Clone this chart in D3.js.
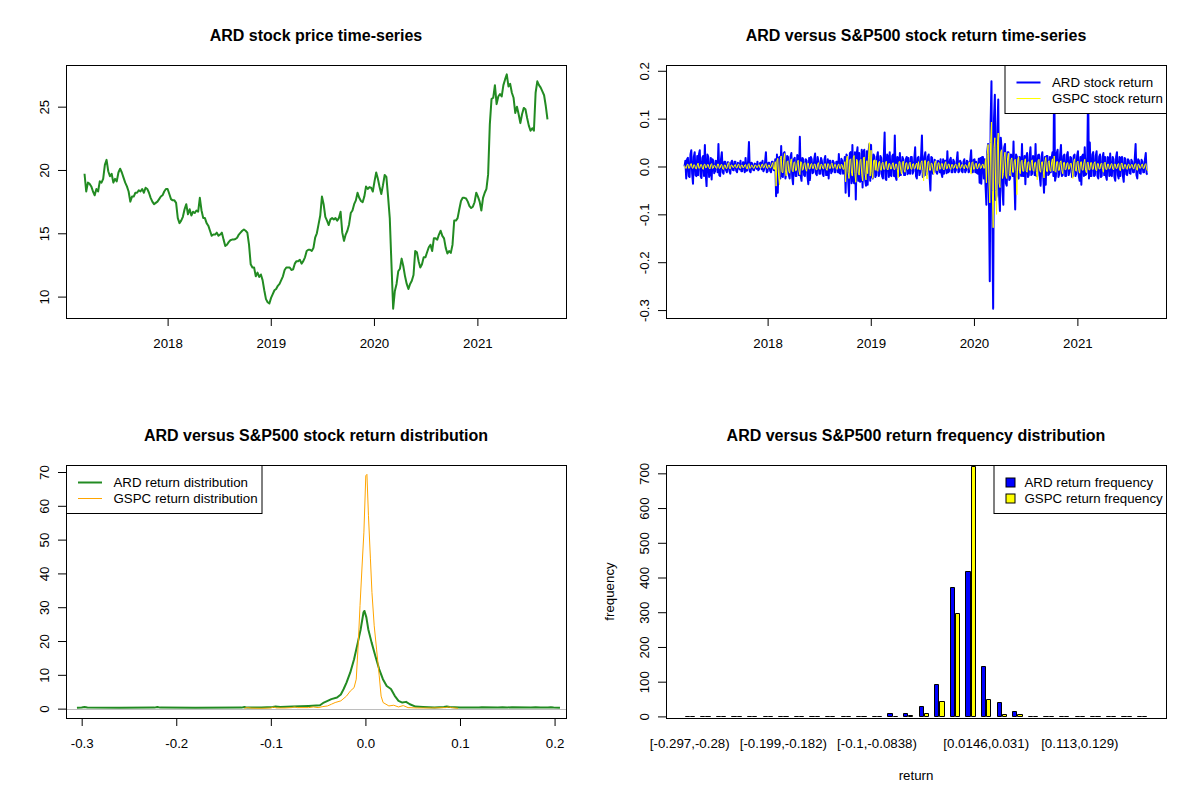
<!DOCTYPE html>
<html>
<head>
<meta charset="utf-8">
<script src="https://cdn.jsdelivr.net/npm/d3@7"></script>
<style>
  body { margin: 0; background: #fff; }
</style>
</head>
<body>
<svg id="chart" width="1200" height="800"></svg>
<script>
// ---- data ----
// all series start 2017-03-13; prices every 6 days, returns every 3 days
const seriesStart = new Date(2017, 2, 13);
const priceStepDays = 6;
const returnStepDays = 3;

const ardPrice = [
  19.7, 18.3, 19.0, 18.9, 18.7, 18.3, 18.0, 18.5, 18.3, 19.1,
  19.0, 19.3, 20.4, 20.8, 19.9, 19.5, 19.7, 19.0, 19.3, 19.1,
  19.8, 20.1, 19.8, 19.4, 19.0, 18.7, 18.3, 17.5, 17.9, 17.9,
  18.2, 18.2, 18.4, 18.3, 18.5, 18.2, 18.6, 18.5, 18.2, 17.8,
  17.5, 17.3, 17.4, 17.5, 17.7, 17.9, 18.0, 18.3, 18.5, 18.5,
  18.1, 17.7, 17.6, 17.6, 17.4, 16.2, 15.8, 16.0, 16.3, 16.9,
  17.3, 16.5, 16.9, 16.4, 16.7, 16.6, 16.8, 16.7, 17.8, 16.8,
  16.2, 16.2, 15.8, 15.6, 15.2, 14.8, 14.9, 14.9, 15.05, 14.8,
  14.9, 15.05, 14.5, 14.0, 14.1, 14.3, 14.45, 14.5, 14.5, 14.55,
  14.65, 14.9, 15.05, 15.2, 15.3, 15.2, 15.05, 14.1, 12.55, 12.3,
  12.3, 11.6, 11.9, 11.55, 11.75, 11.3, 10.5, 9.8, 9.55, 9.45,
  9.9, 10.2, 10.5, 10.6, 10.85, 11.0, 11.3, 11.6, 12.1, 12.3,
  12.3, 12.3, 12.1, 12.15, 12.6, 12.8, 12.8, 12.9, 12.6, 12.8,
  13.1, 13.6, 13.7, 13.7, 13.6, 13.85, 14.65, 15.0, 15.7, 16.4,
  17.9, 17.3, 16.3, 16.0, 15.65, 16.1, 16.2, 16.1, 16.2, 16.0,
  16.2, 16.7, 15.05, 14.4, 14.9, 15.2, 15.7, 16.6, 16.8, 17.3,
  17.6, 18.2, 17.8, 17.55, 17.45, 17.9, 18.7, 18.5, 18.65, 18.6,
  18.3, 19.1, 19.8, 19.3, 18.65, 18.1, 18.8, 19.6, 19.45, 17.9,
  16.2, 12.55, 9.05, 10.45, 11.0, 12.0, 12.2, 13.0, 12.4, 11.6,
  11.0, 10.6, 11.0, 11.25, 11.7, 13.6, 13.5, 12.8, 12.3, 12.55,
  13.1, 13.1, 13.5, 13.9, 14.1, 13.6, 14.6, 14.6, 14.5, 14.9,
  15.2, 14.8, 14.6, 13.85, 13.4, 13.6, 13.45, 14.1, 16.0, 16.0,
  16.2, 16.9, 17.55, 17.8, 17.8, 17.75, 17.5, 17.15, 17.0, 17.1,
  17.45, 18.2, 17.9, 17.5, 16.8, 17.8, 18.2, 18.5, 19.65, 23.6,
  25.6, 25.7, 26.7, 25.2, 25.8, 26.0, 25.8, 26.7, 27.15, 27.55,
  26.6, 26.8, 26.1, 25.7, 24.5, 25.0, 24.4, 23.7, 24.4, 24.9,
  24.8, 24.1, 23.5, 23.1, 23.3, 23.1, 26.1, 27.0, 26.7, 26.5,
  26.2, 25.9, 25.05, 24.0
];

const ardReturn = [
  0.000, 0.012, -0.025, 0.015, 0.018, -0.020, -0.022, 0.025, 0.034, -0.015, -0.036, 0.020, 0.030, -0.018, -0.020, 0.022, -0.018, 0.025, 0.034, -0.020,
  -0.024, 0.018, 0.022, -0.020, 0.045, -0.015, -0.041, 0.025, 0.020, -0.022, -0.015, 0.018, -0.027, 0.015, 0.012, -0.014, -0.010, 0.012, 0.008, -0.012,
  0.047, -0.018, -0.020, 0.015, 0.030, -0.012, -0.015, 0.010, 0.010, -0.008, -0.012, 0.009, 0.008, -0.010, -0.015, 0.008, 0.012, -0.007, -0.008, 0.010,
  0.010, -0.009, -0.012, 0.008, 0.005, -0.006, 0.012, -0.010, -0.010, 0.009, 0.008, -0.012, 0.018, -0.009, -0.008, 0.012, 0.051, -0.010, -0.012, 0.008,
  0.006, -0.007, -0.008, 0.006, 0.004, -0.005, 0.010, -0.008, -0.005, 0.007, 0.008, -0.006, 0.012, -0.010, -0.006, 0.009, 0.030, -0.012, -0.010, 0.008,
  0.008, -0.009, -0.012, 0.010, 0.010, -0.007, -0.008, 0.015, -0.062, 0.025, -0.055, 0.018, 0.020, -0.025, 0.043, -0.020, -0.022, 0.028, 0.030, -0.025,
  -0.015, 0.022, 0.020, -0.018, -0.025, 0.020, 0.028, -0.022, -0.037, 0.015, 0.018, -0.020, -0.020, 0.024, 0.015, -0.018, 0.062, -0.020, -0.030, 0.018,
  0.015, -0.018, -0.020, 0.015, 0.012, -0.020, -0.037, 0.018, -0.028, 0.020, 0.015, -0.014, -0.012, 0.016, 0.027, -0.015, -0.018, 0.020, 0.010, -0.015,
  -0.015, 0.018, 0.012, -0.016, -0.020, 0.014, 0.022, -0.018, -0.018, 0.015, -0.025, 0.012, 0.012, -0.014, -0.010, 0.012, 0.008, -0.012, -0.012, 0.010,
  0.010, -0.012, 0.026, -0.014, -0.015, 0.016, 0.012, -0.015, -0.010, 0.020, -0.055, 0.025, 0.020, -0.030, -0.062, 0.028, 0.030, -0.035, 0.045, -0.028,
  -0.035, 0.030, -0.069, 0.025, 0.040, -0.030, 0.028, -0.032, -0.030, 0.035, -0.044, 0.030, 0.035, -0.028, -0.040, 0.032, -0.038, 0.030, 0.047, -0.030,
  0.045, -0.020, -0.025, 0.025, 0.020, -0.022, -0.018, 0.020, 0.030, -0.020, -0.015, 0.022, 0.018, -0.020, -0.025, 0.018, 0.071, -0.025, -0.028, 0.025,
  0.020, -0.022, 0.030, -0.018, -0.020, 0.022, 0.025, -0.020, 0.065, -0.022, -0.028, 0.020, 0.018, -0.020, 0.028, -0.018, -0.012, 0.020, 0.015, -0.018,
  -0.018, 0.015, 0.020, -0.016, 0.018, -0.014, -0.015, 0.020, 0.020, -0.015, -0.010, 0.016, 0.040, -0.020, -0.025, 0.018, 0.020, -0.018, -0.012, 0.022,
  0.065, -0.022, -0.020, 0.020, 0.030, -0.018, -0.015, 0.020, 0.025, -0.020, -0.050, 0.020, 0.018, -0.015, -0.010, 0.014, 0.012, -0.012, -0.015, 0.012,
  0.008, -0.012, 0.015, -0.014, -0.022, 0.015, -0.015, 0.012, 0.012, -0.014, 0.032, -0.012, -0.010, 0.014, 0.018, -0.012, -0.012, 0.014, 0.010, -0.012,
  -0.008, 0.012, 0.030, -0.012, -0.010, 0.012, 0.008, -0.010, -0.012, 0.010, 0.015, -0.012, -0.008, 0.012, 0.010, -0.012, -0.010, 0.014, 0.034, -0.012,
  -0.012, 0.014, 0.015, -0.012, 0.010, -0.014, -0.015, 0.016, -0.034, 0.018, -0.036, 0.020, 0.020, -0.025, 0.015, -0.040, -0.080, 0.030, 0.047, -0.060,
  -0.240, 0.090, 0.178, -0.120, -0.297, 0.100, 0.150, -0.070, -0.060, 0.080, 0.140, -0.060, -0.093, 0.060, 0.035, -0.050, -0.080, 0.040, 0.047, -0.035,
  -0.040, 0.030, 0.030, -0.028, -0.025, 0.025, 0.022, -0.020, 0.052, -0.025, -0.090, 0.025, 0.020, -0.022, -0.025, 0.020, 0.018, -0.020, 0.047, -0.020,
  -0.020, 0.022, -0.037, 0.020, 0.028, -0.022, -0.018, 0.020, 0.040, -0.018, -0.015, 0.022, 0.020, -0.018, 0.047, -0.020, -0.020, 0.024, 0.025, -0.022,
  -0.040, 0.020, 0.030, -0.020, -0.055, 0.020, -0.038, 0.022, 0.022, -0.018, -0.015, 0.020, -0.012, 0.018, 0.030, -0.020, 0.1925, -0.030, -0.020, 0.028,
  0.035, -0.022, -0.015, 0.025, 0.045, -0.020, -0.018, 0.022, 0.025, -0.020, -0.020, 0.024, 0.030, -0.018, -0.012, 0.020, 0.018, -0.022, -0.020, 0.022,
  0.025, -0.020, -0.015, 0.022, 0.032, -0.020, -0.030, 0.020, -0.038, 0.022, 0.025, -0.020, 0.040, -0.018, -0.015, 0.020, 0.160, -0.025, 0.050, -0.020,
  -0.020, 0.025, 0.030, -0.020, -0.018, 0.022, 0.032, -0.020, -0.025, 0.020, 0.025, -0.022, -0.020, 0.020, 0.028, -0.018, 0.020, -0.020, -0.028, 0.020,
  0.018, -0.020, 0.027, -0.018, -0.020, 0.020, 0.015, -0.022, -0.030, 0.020, 0.030, -0.018, -0.025, 0.020, -0.020, 0.018, 0.020, -0.020, -0.032, 0.018,
  0.015, -0.016, -0.018, 0.015, 0.012, -0.014, -0.015, 0.014, 0.010, -0.012, -0.012, 0.016, 0.047, -0.018, -0.025, 0.015, 0.012, -0.014, -0.015, 0.014,
  0.010, -0.012, -0.012, 0.015, 0.028, -0.015, -0.017
];

const gspcReturn = [
  0.002, -0.003, -0.004, 0.004, 0.005, -0.004, -0.003, 0.005, 0.006, -0.003, -0.004, 0.004, 0.003, -0.004, -0.005, 0.003, 0.007, -0.004, -0.003, 0.004,
  0.004, -0.003, -0.006, 0.004, 0.005, -0.003, -0.002, 0.004, 0.004, -0.003, -0.005, 0.004, 0.006, -0.004, -0.003, 0.003, 0.002, -0.003, -0.004, 0.005,
  0.005, -0.004, -0.003, 0.004, 0.004, -0.005, -0.006, 0.003, 0.003, -0.004, -0.004, 0.005, 0.008, -0.004, -0.005, 0.003, 0.003, -0.002, -0.002, 0.003,
  0.004, -0.003, -0.003, 0.004, 0.005, -0.003, -0.004, 0.003, 0.003, -0.003, -0.002, 0.003, 0.004, -0.004, -0.005, 0.004, 0.006, -0.004, -0.003, 0.003,
  0.002, -0.003, -0.004, 0.003, 0.003, -0.002, -0.002, 0.003, 0.004, -0.003, -0.003, 0.004, 0.005, -0.003, -0.002, 0.004, 0.006, -0.003, -0.004, 0.003,
  0.003, -0.003, -0.002, 0.004, 0.008, -0.005, -0.006, 0.010, -0.041, 0.012, 0.017, -0.020, -0.038, 0.015, 0.022, -0.012, -0.013, 0.015, 0.027, -0.012,
  -0.020, 0.010, 0.012, -0.010, -0.014, 0.010, 0.016, -0.008, -0.011, 0.008, 0.010, -0.009, -0.008, 0.008, 0.013, -0.009, -0.017, 0.010, 0.009, -0.008,
  -0.006, 0.006, 0.008, -0.006, -0.010, 0.006, 0.007, -0.005, -0.005, 0.005, 0.006, -0.004, -0.004, 0.005, 0.005, -0.006, -0.007, 0.005, 0.008, -0.005,
  -0.006, 0.005, 0.004, -0.004, -0.005, 0.005, 0.006, -0.005, -0.008, 0.006, 0.005, -0.004, -0.004, 0.005, 0.007, -0.004, -0.003, 0.004, 0.004, -0.005,
  -0.006, 0.004, 0.005, -0.004, -0.004, 0.005, 0.003, -0.006, -0.005, 0.010, -0.032, 0.015, 0.022, -0.012, -0.025, 0.014, 0.016, -0.015, -0.020, 0.018,
  0.023, -0.015, -0.033, 0.015, 0.011, -0.014, -0.018, 0.012, 0.015, -0.016, -0.030, 0.018, 0.020, -0.015, -0.028, 0.012, -0.015, 0.020, 0.050, -0.020,
  0.034, -0.012, -0.025, 0.012, 0.014, -0.008, 0.013, -0.008, -0.010, 0.008, 0.011, -0.007, -0.008, 0.007, 0.009, -0.006, -0.006, 0.007, 0.011, -0.006,
  -0.007, 0.006, 0.006, -0.005, -0.005, 0.005, 0.008, -0.006, -0.006, 0.005, 0.005, -0.006, -0.024, 0.010, 0.010, -0.008, -0.016, 0.009, 0.011, -0.007,
  -0.012, 0.007, 0.008, -0.006, -0.005, 0.006, 0.009, -0.005, -0.006, 0.005, 0.006, -0.005, -0.004, 0.005, 0.007, -0.006, 0.010, -0.006, -0.007, 0.008,
  0.012, -0.008, -0.030, 0.012, 0.013, -0.010, -0.026, 0.010, 0.011, -0.008, -0.008, 0.007, 0.006, -0.007, -0.016, 0.008, 0.012, -0.007, -0.009, 0.007,
  0.008, -0.006, -0.005, 0.006, 0.006, -0.005, -0.007, 0.006, 0.010, -0.005, -0.004, 0.005, 0.005, -0.004, -0.006, 0.004, 0.004, -0.004, -0.003, 0.004,
  0.005, -0.004, -0.004, 0.004, 0.008, -0.004, -0.003, 0.004, 0.004, -0.003, -0.005, 0.004, 0.003, -0.003, -0.004, 0.005, 0.009, -0.006, -0.016, 0.008,
  0.010, -0.006, -0.005, 0.005, 0.007, -0.005, -0.004, 0.005, 0.006, -0.004, -0.003, 0.004, 0.005, -0.004, -0.003, 0.015, -0.034, 0.025, 0.046, -0.030,
  -0.076, 0.050, 0.093, -0.050, -0.128, 0.040, 0.060, -0.050, -0.100, 0.045, 0.070, -0.035, -0.044, 0.030, 0.035, -0.025, -0.015, 0.020, 0.030, -0.020,
  -0.025, 0.018, 0.028, -0.015, -0.020, 0.014, 0.018, -0.012, -0.012, 0.012, 0.015, -0.010, -0.059, 0.015, 0.020, -0.010, -0.015, 0.010, 0.013, -0.010,
  -0.010, 0.010, 0.016, -0.009, -0.012, 0.009, 0.010, -0.008, -0.008, 0.009, 0.014, -0.008, -0.010, 0.008, 0.009, -0.010, -0.028, 0.012, 0.015, -0.009,
  -0.012, 0.009, 0.010, -0.008, -0.024, 0.010, 0.019, -0.010, -0.011, 0.009, 0.012, -0.009, -0.010, 0.010, 0.016, -0.009, 0.022, -0.010, -0.012, 0.010,
  0.010, -0.008, -0.008, 0.009, 0.012, -0.008, -0.015, 0.008, 0.009, -0.007, -0.006, 0.007, 0.008, -0.006, -0.005, 0.006, 0.007, -0.008, -0.025, 0.010,
  0.016, -0.008, -0.010, 0.009, 0.011, -0.008, -0.014, 0.009, 0.010, -0.007, -0.008, 0.008, 0.015, -0.008, -0.013, 0.008, 0.009, -0.007, -0.007, 0.008,
  0.008, -0.006, -0.006, 0.007, 0.010, -0.007, -0.009, 0.006, 0.006, -0.005, -0.005, 0.006, 0.007, -0.006, -0.012, 0.007, 0.009, -0.006, -0.006, 0.005,
  0.005, -0.005, -0.004, 0.005, 0.006, -0.005, -0.007, 0.005, 0.005, -0.004, -0.004, 0.005, 0.006, -0.005, -0.009, 0.006, 0.007, -0.005, -0.005, 0.004,
  0.004, -0.004, -0.006, 0.004, 0.005, -0.004, -0.003, 0.004, 0.004, -0.004, -0.005, 0.004, 0.006, -0.005, -0.008, 0.005, 0.004, -0.004, -0.003, 0.004,
  0.005, -0.004, -0.004, 0.004, 0.006, -0.005, -0.009
];

// kernel density curves (x = return, y = density)
const ardDensX = [
  -0.305, -0.300, -0.297, -0.294, -0.260, -0.223, -0.220, -0.217, -0.180, -0.131,
  -0.128, -0.125, -0.110, -0.098, -0.095, -0.090, -0.077, -0.060, -0.048, -0.044,
  -0.040, -0.036, -0.030, -0.026, -0.023, -0.020, -0.016, -0.012, -0.008, -0.005,
  -0.002, -0.001, 0.001, 0.003, 0.0065, 0.0105, 0.0145, 0.0185, 0.0225, 0.027,
  0.031, 0.035, 0.039, 0.043, 0.047, 0.053, 0.061, 0.073, 0.083, 0.086,
  0.089, 0.100, 0.120, 0.123, 0.140, 0.145, 0.150, 0.155, 0.175, 0.180,
  0.185, 0.193, 0.196, 0.199, 0.2057
];
const ardDensY = [
  0.25, 0.35, 0.5, 0.35, 0.25, 0.3, 0.45, 0.3, 0.25, 0.3,
  0.45, 0.3, 0.3, 0.5, 0.6, 0.5, 0.6, 0.8, 1.0, 1.8,
  2.3, 2.8, 3.3, 4.2, 5.8, 7.7, 10.7, 14.6, 19.6, 23.5,
  28.5, 28.9, 27.0, 23.5, 19.6, 15.6, 11.7, 8.7, 6.7, 5.8,
  3.8, 2.3, 1.8, 2.0, 1.3, 0.6, 0.5, 0.3, 0.45, 0.6,
  0.45, 0.3, 0.35, 0.4, 0.3, 0.4, 0.35, 0.4, 0.3, 0.4,
  0.3, 0.3, 0.4, 0.3, 0.25
];
const gspcDensX = [
  -0.128, -0.125, -0.12, -0.11, -0.10, -0.097, -0.094, -0.085, -0.078, -0.075,
  -0.072, -0.06, -0.055, -0.050, -0.045, -0.040, -0.036, -0.032, -0.026, -0.020,
  -0.016, -0.012, -0.0097, -0.0077, -0.0057, -0.0037, -0.0016, 0.0004, 0.0016, 0.0032,
  0.0053, 0.0069, 0.0093, 0.0118, 0.0146, 0.0166, 0.0187, 0.0248, 0.030, 0.0349,
  0.040, 0.0451, 0.055, 0.07, 0.085, 0.088, 0.091, 0.098
];
const gspcDensY = [
  0.1, 0.3, 0.15, 0.1, 0.2, 0.45, 0.2, 0.2, 0.3, 0.5,
  0.3, 0.3, 0.5, 0.3, 0.6, 0.8, 1.3, 1.8, 2.3, 3.7,
  5.2, 6.2, 8.7, 18.6, 30.5, 41.3, 52.2, 68.9, 69.3, 57.2,
  44.3, 34.4, 24.5, 17.6, 9.7, 3.7, 1.8, 0.8, 1.0, 0.5,
  0.9, 0.3, 0.2, 0.2, 0.3, 0.5, 0.3, 0.1
];

// return frequency table (30 bins)
const binLabels = [
  '[-0.297,-0.28)', '[-0.28,-0.264)', '[-0.264,-0.248)', '[-0.248,-0.231)', '[-0.231,-0.215)',
  '[-0.215,-0.199)', '[-0.199,-0.182)', '[-0.182,-0.166)', '[-0.166,-0.149)', '[-0.149,-0.133)',
  '[-0.133,-0.117)', '[-0.117,-0.1)', '[-0.1,-0.0838)', '[-0.0838,-0.0674)', '[-0.0674,-0.051)',
  '[-0.051,-0.0347)', '[-0.0347,-0.0183)', '[-0.0183,-0.00195)', '[-0.00195,0.0146)', '[0.0146,0.031)',
  '[0.031,0.0474)', '[0.0474,0.0638)', '[0.0638,0.0801)', '[0.0801,0.0965)', '[0.0965,0.113)',
  '[0.113,0.129)', '[0.129,0.146)', '[0.146,0.162)', '[0.162,0.178)', '[0.178,0.195)'
];
const ardFreq = [2, 0, 0, 0, 1, 0, 0, 0, 0, 0, 1, 0, 2, 9, 9, 30, 94, 372, 418, 146,
                 42, 16, 2, 2, 2, 0, 1, 1, 0, 1];
const gspcFreq = [0, 0, 0, 0, 0, 0, 0, 0, 0, 0, 1, 0, 1, 2, 3, 10, 44, 297, 722, 51,
                  7, 7, 1, 1, 0, 0, 0, 0, 0, 0];

const yearTicks = [2018, 2019, 2020, 2021];
const priceTicks = [10, 15, 20, 25];
const returnTicks = [-0.3, -0.2, -0.1, 0.0, 0.1, 0.2];
const densYTicks = [0, 10, 20, 30, 40, 50, 60, 70];
const freqTicks = [0, 100, 200, 300, 400, 500, 600, 700];
const histYLim = [-4.6, 724];

// ---- layout ----
const FONT = '"Liberation Sans", Arial, Helvetica, sans-serif';
const boxes = [
  { x0: 66, x1: 566, y0: 65, y1: 318 },
  { x0: 666, x1: 1166, y0: 65, y1: 318 },
  { x0: 66, x1: 566, y0: 465, y1: 718 },
  { x0: 666, x1: 1166, y0: 465, y1: 718 }
];

const svg = d3.select('#chart').attr('font-family', FONT);
const defs = svg.append('defs');
boxes.forEach((b, i) => {
  defs.append('clipPath').attr('id', 'clip' + i)
    .append('rect')
    .attr('x', b.x0).attr('y', b.y0)
    .attr('width', b.x1 - b.x0).attr('height', b.y1 - b.y0);
});

// R style 4% axis extension (works for numbers and dates)
const pad = ext => {
  const a = +ext[0], z = +ext[1], r = z - a;
  return [a - 0.04 * r, z + 0.04 * r];
};

const priceDates = ardPrice.map((d, i) => d3.timeDay.offset(seriesStart, i * priceStepDays));
const returnDates = ardReturn.map((d, i) => d3.timeDay.offset(seriesStart, i * returnStepDays));
const fmt1 = d => d.toFixed(1);

function title(b, txt) {
  svg.append('text')
    .attr('x', (b.x0 + b.x1) / 2).attr('y', b.y0 - 24)
    .attr('text-anchor', 'middle')
    .attr('font-weight', 'bold').attr('font-size', '16px')
    .text(txt);
}

function frame(b) {
  svg.append('rect')
    .attr('x', b.x0 + 0.5).attr('y', b.y0 + 0.5)
    .attr('width', b.x1 - b.x0).attr('height', b.y1 - b.y0)
    .attr('fill', 'none').attr('stroke', '#000');
}

function styleAxis(g) {
  g.attr('font-family', FONT).attr('font-size', '13.3px');
  g.select('.domain').remove();
  g.selectAll('line').attr('stroke', '#000');
  g.selectAll('text').attr('fill', '#000');
}

function xAxis(b, scale, ticks, fmt) {
  const g = svg.append('g')
    .attr('transform', `translate(0,${b.y1})`)
    .call(d3.axisBottom(scale).tickValues(ticks).tickFormat(fmt).tickSize(8).tickSizeOuter(0));
  styleAxis(g);
  g.selectAll('text').attr('y', 30).attr('dy', null);
}

function yAxis(b, scale, ticks, fmt) {
  const g = svg.append('g')
    .attr('transform', `translate(${b.x0},0)`)
    .call(d3.axisLeft(scale).tickValues(ticks).tickFormat(fmt).tickSize(8).tickSizeOuter(0));
  styleAxis(g);
  g.selectAll('text')
    .attr('x', null).attr('dy', null)
    .attr('text-anchor', 'middle')
    .attr('transform', 'translate(-17.5,0) rotate(-90)');
}

function legendBox(x0, y0, w, items) {
  svg.append('rect')
    .attr('x', x0 + 0.5).attr('y', y0 + 0.5)
    .attr('width', w).attr('height', 48)
    .attr('fill', '#fff').attr('stroke', '#000');
  items.forEach((it, i) => {
    const cy = y0 + 17.5 + 16 * i;
    if (it.fill) {
      svg.append('rect')
        .attr('x', x0 + 12.5).attr('y', cy - 4.5)
        .attr('width', 9).attr('height', 9)
        .attr('fill', it.fill).attr('stroke', '#000');
    } else {
      svg.append('line')
        .attr('x1', x0 + 12).attr('x2', x0 + 36)
        .attr('y1', cy).attr('y2', cy)
        .attr('stroke', it.color).attr('stroke-width', it.lw);
    }
    svg.append('text')
      .attr('x', x0 + (it.fill ? 31 : 47.5)).attr('y', cy + 4.8)
      .attr('font-size', '13.3px')
      .text(it.label);
  });
}

// ---- panel 1: price time-series ----
{
  const b = boxes[0];
  const x = d3.scaleTime().domain(pad(d3.extent(priceDates))).range([b.x0, b.x1]);
  const y = d3.scaleLinear().domain(pad(d3.extent(ardPrice))).range([b.y1, b.y0]);

  svg.append('path')
    .datum(ardPrice)
    .attr('clip-path', 'url(#clip0)')
    .attr('fill', 'none')
    .attr('stroke', '#228B22').attr('stroke-width', 2)
    .attr('stroke-linejoin', 'round')
    .attr('d', d3.line().x((d, i) => x(priceDates[i])).y(d => y(d)));

  xAxis(b, x, yearTicks.map(yr => new Date(yr, 0, 1)), d => d.getFullYear());
  yAxis(b, y, priceTicks, d => d);
  frame(b);
  title(b, 'ARD stock price time-series');
}

// ---- panel 2: return time-series ----
{
  const b = boxes[1];
  const x = d3.scaleTime().domain(pad(d3.extent(returnDates))).range([b.x0, b.x1]);
  const y = d3.scaleLinear().domain(pad(d3.extent(ardReturn))).range([b.y1, b.y0]);
  const line = d3.line().x((d, i) => x(returnDates[i])).y(d => y(d));

  svg.append('path')
    .datum(ardReturn)
    .attr('clip-path', 'url(#clip1)')
    .attr('fill', 'none')
    .attr('stroke', '#0000FF').attr('stroke-width', 2)
    .attr('stroke-linejoin', 'round')
    .attr('d', line);
  svg.append('path')
    .datum(gspcReturn)
    .attr('clip-path', 'url(#clip1)')
    .attr('fill', 'none')
    .attr('stroke', '#FFFF00').attr('stroke-width', 1)
    .attr('d', line);

  xAxis(b, x, yearTicks.map(yr => new Date(yr, 0, 1)), d => d.getFullYear());
  yAxis(b, y, returnTicks, fmt1);
  legendBox(1004.5, b.y0, 161.5, [
    { label: 'ARD stock return', color: '#0000FF', lw: 2 },
    { label: 'GSPC stock return', color: '#FFFF00', lw: 1 }
  ]);
  frame(b);
  title(b, 'ARD versus S&P500 stock return time-series');
}

// ---- panel 3: return densities ----
{
  const b = boxes[2];
  const x = d3.scaleLinear().domain(pad(d3.extent(ardReturn))).range([b.x0, b.x1]);
  const y = d3.scaleLinear()
    .domain(pad([0, d3.max(ardDensY.concat(gspcDensY))]))
    .range([b.y1, b.y0]);

  svg.append('line')
    .attr('x1', b.x0).attr('x2', b.x1)
    .attr('y1', Math.round(y(0)) + 0.5).attr('y2', Math.round(y(0)) + 0.5)
    .attr('stroke', '#BEBEBE');

  svg.append('path')
    .datum(ardDensY)
    .attr('clip-path', 'url(#clip2)')
    .attr('fill', 'none')
    .attr('stroke', '#228B22').attr('stroke-width', 2)
    .attr('stroke-linejoin', 'round')
    .attr('d', d3.line().x((d, i) => x(ardDensX[i])).y(d => y(d)));
  svg.append('path')
    .datum(gspcDensY)
    .attr('clip-path', 'url(#clip2)')
    .attr('fill', 'none')
    .attr('stroke', '#FFA500').attr('stroke-width', 1)
    .attr('d', d3.line().x((d, i) => x(gspcDensX[i])).y(d => y(d)));

  xAxis(b, x, returnTicks, fmt1);
  yAxis(b, y, densYTicks, d => d);
  legendBox(b.x0, b.y0, 195.5, [
    { label: 'ARD return distribution', color: '#228B22', lw: 2 },
    { label: 'GSPC return distribution', color: '#FFA500', lw: 1 }
  ]);
  frame(b);
  title(b, 'ARD versus S&P500 stock return distribution');
}

// ---- panel 4: grouped frequency bars ----
{
  const b = boxes[3];
  const n = binLabels.length;
  const x = d3.scaleBand()
    .domain(binLabels)
    .range([b.x0, b.x1])
    .paddingInner(1 / 3)
    .paddingOuter(0.04 * (3 * n - 1) / 3);
  const xs = d3.scaleBand().domain(['ARD', 'GSPC']).range([0, x.bandwidth()]);
  const y = d3.scaleLinear().domain(histYLim).range([b.y1, b.y0]);

  const bars = binLabels.flatMap((lbl, i) => [
    { bin: lbl, key: 'ARD', v: ardFreq[i], fill: '#0000FF' },
    { bin: lbl, key: 'GSPC', v: gspcFreq[i], fill: '#FFFF00' }
  ]);

  // paths instead of rects so that zero-count bars still show their border
  svg.append('g')
    .attr('clip-path', 'url(#clip3)')
    .selectAll('path')
    .data(bars)
    .join('path')
    .attr('d', d => {
      const l = Math.round(x(d.bin) + xs(d.key)) + 0.5;
      const r = Math.round(x(d.bin) + xs(d.key) + xs.bandwidth()) - 0.5;
      const t = Math.round(y(d.v)) + 0.5;
      const z = Math.round(y(0)) + 0.5;
      return `M${l},${z}V${t}H${r}V${z}Z`;
    })
    .attr('fill', d => d.fill)
    .attr('stroke', '#000');

  yAxis(b, y, freqTicks, d => d);

  // category labels: skip any that would overlap the previous one, like R does
  const gap = 6;
  let lastRight = -Infinity;
  binLabels.forEach(lbl => {
    const cx = x(lbl) + x.bandwidth() / 2;
    const t = svg.append('text')
      .attr('x', cx).attr('y', b.y1 + 30)
      .attr('text-anchor', 'middle')
      .attr('font-size', '13.3px')
      .text(lbl);
    const w = t.node().getComputedTextLength();
    if (cx - w / 2 < lastRight + gap) t.remove();
    else lastRight = cx + w / 2;
  });

  svg.append('text')
    .attr('x', (b.x0 + b.x1) / 2).attr('y', b.y1 + 62)
    .attr('text-anchor', 'middle').attr('font-size', '13.3px')
    .text('return');
  svg.append('text')
    .attr('transform', `translate(${b.x0 - 52},${(b.y0 + b.y1) / 2}) rotate(-90)`)
    .attr('text-anchor', 'middle').attr('font-size', '13.3px')
    .text('frequency');

  legendBox(993.5, b.y0, 172.5, [
    { label: 'ARD return frequency', fill: '#0000FF' },
    { label: 'GSPC return frequency', fill: '#FFFF00' }
  ]);
  frame(b);
  title(b, 'ARD versus S&P500 return frequency distribution');
}
</script>
</body>
</html>
